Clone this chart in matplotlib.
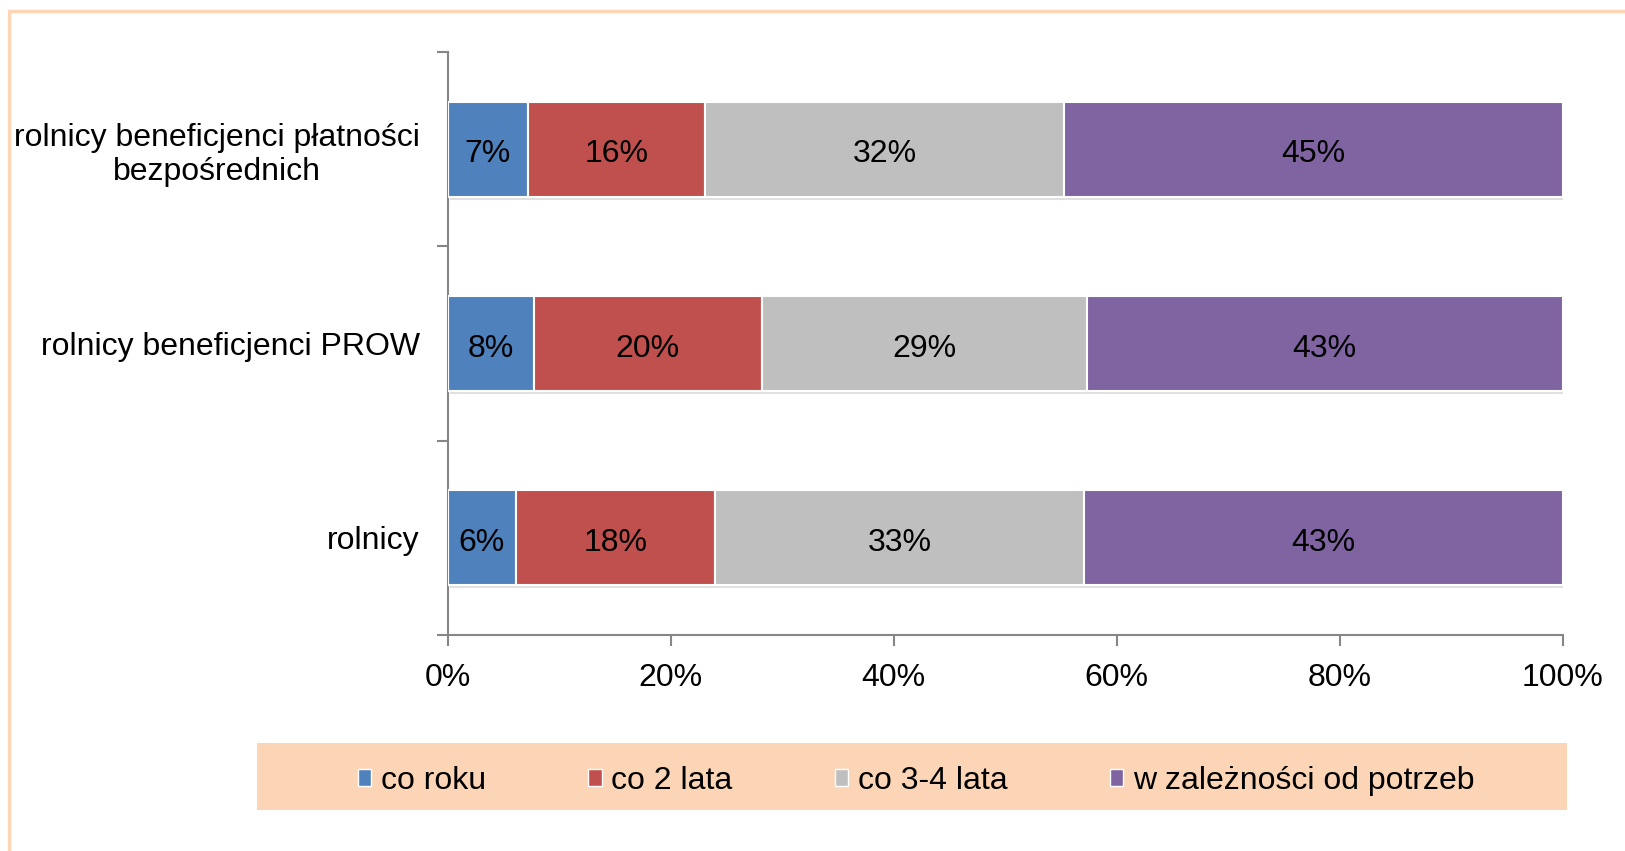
import matplotlib
matplotlib.use("Agg")
import matplotlib.pyplot as plt
from matplotlib.patches import Rectangle, Patch
import matplotlib.patheffects as pe

plt.rcParams['font.family'] = ['Liberation Sans', 'DejaVu Sans']

categories = ["rolnicy beneficjenci płatności\nbezpośrednich", "rolnicy beneficjenci PROW", "rolnicy"]
series_names = ["co roku", "co 2 lata", "co 3-4 lata", "w zależności od potrzeb"]
co_roku = [7.2, 7.7, 6.1]
co_2_lata = [15.9, 20.5, 17.9]
co_3_4_lata = [32.2, 29.1, 33.1]
w_zaleznosci = [44.7, 42.7, 42.9]
series_values = [co_roku, co_2_lata, co_3_4_lata, w_zaleznosci]
x_ticks = [0, 20, 40, 60, 80, 100]
x_tick_labels = ["0%", "20%", "40%", "60%", "80%", "100%"]

colors = ["#4F81BD", "#C0504D", "#BFBFBF", "#8064A2"]
FS = 23

W, H = 1625, 851
fig = plt.figure(figsize=(W / 100, H / 100), dpi=100)

# outer peach frame
fig.patches.append(Rectangle((9 / W, -0.1), 1.2, 1 - 11 / H + 0.1, transform=fig.transFigure,
                             fill=False, edgecolor="#FCD5B4", linewidth=2.5))

ax = fig.add_axes([447.7 / W, 1 - 635 / H, (1562.8 - 447.7) / W, (635 - 52) / H])

ypos = [2, 1, 0]
left = [0.0] * len(categories)
for name, vals, col in zip(series_names, series_values, colors):
    bars = ax.barh(ypos, vals, left=left, height=0.49, color=col, edgecolor="white",
                   linewidth=1.5, label=name, zorder=3)
    for b in bars:
        b.set_path_effects([pe.SimplePatchShadow(offset=(1.5, -2), shadow_rgbFace="#000000", alpha=0.12),
                            pe.Normal()])
    for y, l, v in zip(ypos, left, vals):
        ax.annotate(f"{round(v):.0f}%", xy=(l + v / 2, y), xytext=(0, -3.8),
                    textcoords="offset points", ha="center", va="center", fontsize=FS,
                    color="black", zorder=4)
    left = [l + v for l, v in zip(left, vals)]

ax.set_xlim(0, 100)
ax.set_ylim(-0.5, 2.5)
ax.set_xticks(x_ticks)
ax.set_xticklabels(x_tick_labels, fontsize=FS)
ax.set_yticks([-0.5, 0.5, 1.5, 2.5])
ax.set_yticklabels([])
ax.set_yticks(ypos, minor=True)
ax.set_yticklabels(categories, minor=True, fontsize=FS, ha="right", multialignment="center")
ax.tick_params(axis="y", which="minor", length=0, pad=20)
ax.tick_params(axis="both", which="major", direction="out", length=8, color="#868686", width=1.5)
ax.tick_params(axis="x", pad=12)
for s in ["top", "right"]:
    ax.spines[s].set_visible(False)
for s in ["left", "bottom"]:
    ax.spines[s].set_color("#868686")
    ax.spines[s].set_linewidth(1.5)

# legend background
fig.patches.append(Rectangle((257 / W, 1 - 810 / H), (1567 - 257) / W, (810 - 743) / H,
                             transform=fig.transFigure, facecolor="#FBD5B5", edgecolor="none", zorder=0))
handles = [Patch(facecolor=c, edgecolor="white", linewidth=1) for c in colors]
fig.legend(handles, series_names, loc="center left", bbox_to_anchor=(358 / W, 1 - 781 / H),
           ncol=4, frameon=False, fontsize=FS, handlelength=0.42, handleheight=0.42,
           handletextpad=0.3, columnspacing=3.2, borderpad=0, borderaxespad=0)

fig.savefig("out.png", dpi=100)
